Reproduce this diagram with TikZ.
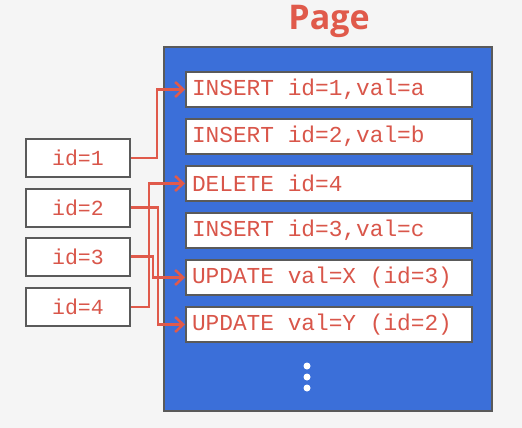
\documentclass[tikz,border=0pt]{standalone}
\usepackage{fontspec}
\setmonofont{Liberation Mono}[WordSpace={1,0,0}]
\newfontfamily\titlefont{Open Sans}
\usetikzlibrary{arrows.meta}
\definecolor{bgc}{HTML}{F5F5F5}
\definecolor{pageblue}{HTML}{3B6FD9}
\definecolor{framegray}{HTML}{5A5A5A}
\definecolor{redc}{HTML}{E05A4B}
\definecolor{txtred}{HTML}{D9564A}
\protected\def\entryfont{\fontsize{22.8}{25}\selectfont\ttfamily}
\protected\def\idfont{\fontsize{21.5}{23}\selectfont\ttfamily}
\protected\def\sps{\hspace*{0.6em}}
\tikzset{
  entry/.style={draw=framegray, line width=2pt, fill=white, anchor=west,
    minimum height=35pt, text width=274pt, inner xsep=6pt, align=left,
    font=\entryfont, text=txtred},
  idbox/.style={draw=framegray, line width=2pt, fill=white,
    minimum width=104pt, minimum height=38pt, inner sep=0pt,
    font=\idfont, text=txtred},
  conn/.style={draw=redc, line width=2.5pt, -{Straight Barb[length=8pt,width=15pt,line width=2.5pt]}},
}
\begin{document}
\begin{tikzpicture}[x=1pt,y=-1pt]
\path[fill=bgc] (0,0) rectangle (522,428);
\useasboundingbox (0,0) rectangle (522,428);
\node[font=\titlefont\bfseries\fontsize{34}{36}\selectfont, text=redc] (title) at (329,21) {Page};
\node[draw=framegray, line width=2pt, fill=pageblue, minimum width=328pt, minimum height=364pt, inner sep=0pt] (page) at (328,229) {};
\node[entry] (e1) at (185,89.5) {INSERT\sps id=1,val=a};
\node[entry] (e2) at (185,136.5) {INSERT\sps id=2,val=b};
\node[entry] (e3) at (185,183.5) {DELETE\sps id=4};
\node[entry] (e4) at (185,230.5) {INSERT\sps id=3,val=c};
\node[entry] (e5) at (185,277.5) {UPDATE\sps val=X\sps (id=3)};
\node[entry] (e6) at (185,324.5) {UPDATE\sps val=Y\sps (id=2)};
\foreach \yy [count=\i] in {366,377,388} {
  \node[circle, fill=white, inner sep=0pt, minimum size=7pt] (dot\i) at (307,\yy) {};
}
\node[idbox] (id1) at (78,158) {id=1};
\node[idbox] (id2) at (78,207.5) {id=2};
\node[idbox] (id3) at (78,256.5) {id=3};
\node[idbox] (id4) at (78,307) {id=4};
\draw[conn] (id1.east) -| ([xshift=-28pt]e1.west) -- (e1.west);
\draw[conn] (id4.east) -| ([xshift=-36pt]e3.west) -- (e3.west);
\draw[conn] (id3.east) -| ([xshift=-32pt]e5.west) -- (e5.west);
\draw[conn] (id2.east) -| ([xshift=-27pt]e6.west) -- (e6.west);
\end{tikzpicture}
\end{document}
